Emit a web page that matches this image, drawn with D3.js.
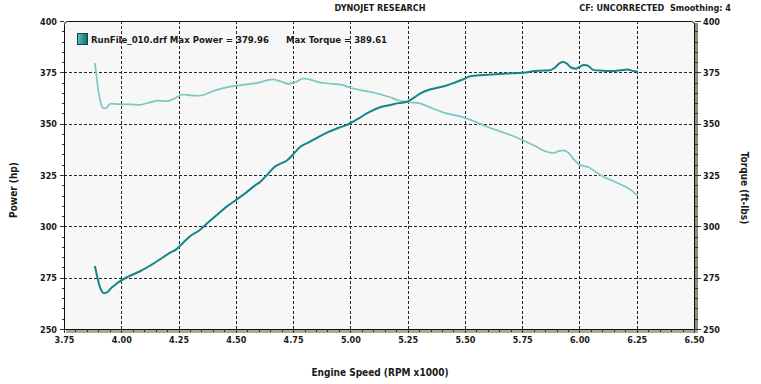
<!DOCTYPE html>
<html><head><meta charset="utf-8">
<script src="https://cdn.jsdelivr.net/npm/d3@7"></script>
<style>
body{margin:0;background:#ffffff}
svg{display:block}
text{font-family:"DejaVu Sans Condensed","DejaVu Sans",sans-serif;font-weight:bold;font-size:9px;fill:#1a1a1a}
.ttl{font-size:10px}
</style>
</head><body>
<svg id="c" width="761" height="384"></svg>
<script>
// ---- data ----
const powerRpm = [3.885,3.898,3.910,3.925,3.940,3.955,3.970,3.995,4.030,4.080,4.125,4.170,4.210,4.240,4.270,4.300,4.340,4.380,4.420,4.460,4.500,4.540,4.580,4.610,4.640,4.670,4.700,4.720,4.750,4.780,4.820,4.860,4.900,4.950,5.000,5.040,5.080,5.130,5.170,5.210,5.250,5.280,5.310,5.340,5.380,5.420,5.460,5.490,5.520,5.550,5.600,5.650,5.700,5.750,5.780,5.800,5.830,5.870,5.895,5.915,5.930,5.945,5.965,5.985,6.000,6.020,6.040,6.060,6.100,6.140,6.180,6.210,6.230,6.255];
const powerHp  = [280.7,274.0,269.5,267.4,268.0,269.8,271.2,273.3,275.5,278.0,280.8,284.0,287.0,288.8,292.0,295.2,298.0,302.0,305.8,309.6,312.8,316.0,319.6,322.0,325.5,329.0,330.8,331.8,335.0,338.6,341.0,343.5,345.8,348.0,350.2,352.8,355.5,358.0,359.0,360.0,360.8,362.8,365.0,366.4,367.5,368.6,370.2,371.5,373.0,373.4,373.8,374.2,374.5,374.8,375.2,375.6,375.8,376.0,377.5,379.6,380.0,379.2,377.2,376.8,377.6,378.6,378.0,376.2,375.8,375.6,376.0,376.4,375.8,375.3];
const torqueRpm = [3.885,3.893,3.900,3.907,3.915,3.925,3.935,3.945,3.955,3.970,4.000,4.040,4.080,4.120,4.160,4.200,4.235,4.270,4.300,4.340,4.410,4.475,4.540,4.600,4.660,4.700,4.730,4.760,4.795,4.820,4.860,4.920,4.960,5.000,5.050,5.100,5.170,5.210,5.250,5.300,5.350,5.420,5.490,5.540,5.600,5.660,5.710,5.760,5.805,5.850,5.885,5.910,5.930,5.950,5.975,6.000,6.040,6.070,6.100,6.140,6.180,6.220,6.255];
const torqueLbft = [379.5,372.0,366.0,362.0,358.5,357.4,357.6,359.0,359.8,359.6,359.4,359.4,359.2,360.2,361.2,361.0,362.4,364.2,363.8,363.6,366.2,368.0,369.0,370.0,371.6,370.4,369.4,370.2,372.0,371.6,370.2,369.4,369.0,367.5,366.2,365.2,363.0,361.4,360.5,360.0,357.8,355.0,353.2,351.2,348.4,346.0,344.0,341.6,339.2,336.6,335.8,336.6,337.0,336.0,332.6,330.0,328.8,326.6,324.4,322.4,320.4,318.0,314.8];
const xTicks = [3.75,4.00,4.25,4.50,4.75,5.00,5.25,5.50,5.75,6.00,6.25,6.50];
const yTicks = [250,275,300,325,350,375,400];
const titleText = "DYNOJET RESEARCH";
const cfText = "CF: UNCORRECTED  Smoothing: 4";
const legendText1 = "RunFile_010.drf Max Power = 379.96";
const legendText2 = "Max Torque = 389.61";
const xTitle = "Engine Speed (RPM x1000)";
const yLeftTitle = "Power (hp)";
const yRightTitle = "Torque (ft-lbs)";

// ---- layout ----
const L=64, R=694, T=21, B=329;
const svg = d3.select("#c");
const x = d3.scaleLinear().domain([3.75,6.5]).range([L,R]);
const y = d3.scaleLinear().domain([250,400]).range([B,T]);

// plot background
svg.append("rect").attr("x",L).attr("y",T).attr("width",R-L).attr("height",B-T).attr("fill","#f7f7f7");

// grid
const grid = svg.append("g").attr("stroke","#222").attr("stroke-width",1).attr("stroke-dasharray","3,2").attr("shape-rendering","crispEdges");
xTicks.slice(1,-1).forEach(t=>{
  grid.append("line").attr("x1",Math.round(x(t))+0.5).attr("x2",Math.round(x(t))+0.5).attr("y1",T).attr("y2",B);
});
yTicks.slice(1,-1).forEach(t=>{
  grid.append("line").attr("y1",Math.round(y(t))+0.5).attr("y2",Math.round(y(t))+0.5).attr("x1",L).attr("x2",R);
});

// frame: shadow right & bottom
svg.append("rect").attr("x",R).attr("y",T+2).attr("width",4).attr("height",B-T+2).attr("fill","#8f8e7a");
svg.append("rect").attr("x",L+2).attr("y",B).attr("width",R-L+2).attr("height",4).attr("fill","#a9a896");
svg.append("path")
  .attr("d",`M${L+0.5},${B+0.5} L${L+0.5},${T+3.5} Q${L+0.5},${T+0.5} ${L+3.5},${T+0.5} L${R-2.5},${T+0.5} Q${R+0.5},${T+0.5} ${R+0.5},${T+3.5} L${R+0.5},${B+0.5} Z`)
  .attr("fill","none").attr("stroke","#111").attr("stroke-width",1);

// axes via d3
const xMinor = d3.range(3.75,6.5001,0.05);
const yMinor = d3.range(250,400.001,5);

const axBottom = d3.axisBottom(x).tickValues(xTicks).tickFormat(d3.format(".2f")).tickSize(3).tickPadding(4);
const gx = svg.append("g").attr("transform",`translate(0,${B+1})`).call(axBottom);
const gxm = svg.append("g").attr("transform",`translate(0,${B})`).call(d3.axisBottom(x).tickValues(xMinor).tickFormat("").tickSize(3));

const axLeft = d3.axisLeft(y).tickValues(yTicks).tickFormat(d3.format("d")).tickSize(4).tickPadding(3);
const gy = svg.append("g").attr("transform",`translate(${L},0)`).call(axLeft);
const gym = svg.append("g").attr("transform",`translate(${L},0)`).call(d3.axisLeft(y).tickValues(yMinor).tickFormat("").tickSize(2));

const axRight = d3.axisRight(y).tickValues(yTicks).tickFormat(d3.format("d")).tickSize(3).tickPadding(2);
const gr = svg.append("g").attr("transform",`translate(${R+4},0)`).call(axRight);
const grm = svg.append("g").attr("transform",`translate(${R+4},0)`).call(d3.axisLeft(y).tickValues(yMinor).tickFormat("").tickSize(3));

[gx,gxm,gy,gym,gr,grm].forEach(g=>{
  g.select(".domain").remove();
  g.selectAll("line").attr("stroke","#333").attr("shape-rendering","crispEdges");
  g.selectAll("text").attr("font-family",null).attr("font-size",null).attr("fill","#1a1a1a");
});
gy.selectAll("text").attr("dy","0.35em");
gr.selectAll("text").attr("dy","0.35em");

// curves
const line = d3.line().x(d=>x(d[0])).y(d=>y(d[1])).curve(d3.curveMonotoneX);
svg.append("path").datum(torqueRpm.map((r,i)=>[r,torqueLbft[i]]))
  .attr("d",line).attr("fill","none").attr("stroke","#7cc6c3").attr("stroke-width",1.7);
svg.append("path").datum(powerRpm.map((r,i)=>[r,powerHp[i]]))
  .attr("d",line).attr("fill","none").attr("stroke","#158585").attr("stroke-width",2);

// legend
const defs = svg.append("defs");
const gr1 = defs.append("linearGradient").attr("id","sw").attr("x1","0").attr("x2","1");
gr1.append("stop").attr("offset","0").attr("stop-color","#5cc0bd");
gr1.append("stop").attr("offset","1").attr("stop-color","#0d6f6f");
svg.append("rect").attr("x",77.5).attr("y",33.5).attr("width",10).attr("height",11).attr("fill","url(#sw)").attr("stroke","#144").attr("stroke-width",1);
svg.append("text").attr("x",91).attr("y",42.5).attr("textLength",178).attr("lengthAdjust","spacingAndGlyphs").text(legendText1);
svg.append("text").attr("x",286).attr("y",42.5).attr("textLength",101).attr("lengthAdjust","spacingAndGlyphs").text(legendText2);

// titles
svg.append("text").attr("x",380).attr("y",10.5).attr("text-anchor","middle").text(titleText);
svg.append("text").attr("x",731).attr("y",10.5).attr("text-anchor","end").style("white-space","pre").text(cfText);
svg.append("text").attr("class","ttl").attr("x",380).attr("y",376).attr("text-anchor","middle").text(xTitle);
svg.append("text").attr("class","ttl").attr("transform","translate(17,190) rotate(-90)").attr("text-anchor","middle").text(yLeftTitle);
svg.append("text").attr("class","ttl").attr("transform","translate(741,188) rotate(90)").attr("text-anchor","middle").text(yRightTitle);
</script>
</body></html>
